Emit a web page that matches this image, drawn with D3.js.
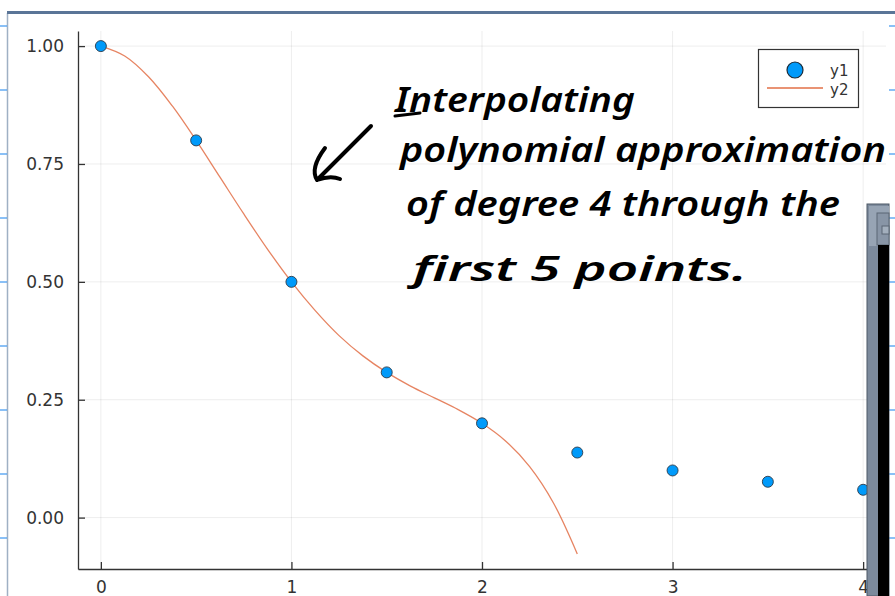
<!DOCTYPE html>
<html>
<head>
<meta charset="utf-8">
<script src="https://cdn.jsdelivr.net/npm/d3@7"></script>
<style>
  body { margin: 0; background: #fff; }
  text { font-family: "DejaVu Sans", sans-serif; }
</style>
</head>
<body>
<div id="chart"></div>
<script>
// sample points y1
var pointX = [0, 0.5, 1, 1.5, 2, 2.5, 3, 3.5, 4];
var pointY = [1.0, 0.8, 0.5, 0.308, 0.2, 0.138, 0.1, 0.076, 0.059];

// curve y2
var curveX = [0, 0.125, 0.25, 0.375, 0.5, 0.625, 0.75, 0.875, 1, 1.125, 1.25, 1.375, 1.5,
              1.625, 1.75, 1.875, 2, 2.125, 2.25, 2.375, 2.5];
var curveY = [1.0, 0.979, 0.935, 0.873, 0.8, 0.722, 0.644, 0.569, 0.5, 0.439, 0.386, 0.343, 0.308,
              0.279, 0.254, 0.229, 0.2, 0.162, 0.108, 0.031, -0.077];

var xTicks = [0, 1, 2, 3, 4];
var yTicks = [0, 0.25, 0.5, 0.75, 1.0];
var seriesNames = ["y1", "y2"];
var noteLines = ["Interpolating", "polynomial approximation", "of degree 4 through the", "first  5 points."];

var width = 895, height = 596,
    margin = {top: 31, right: 9, bottom: 27, left: 78};

var svg = d3.select("#chart").append("svg")
    .attr("width", width)
    .attr("height", height);

var x = d3.scaleLinear().domain([-0.12, 4.12]).range([margin.left, width - margin.right]),
    y = d3.scaleLinear().domain([-0.109, 1.032]).range([height - margin.bottom, margin.top]);

// page frame behind the plot
svg.append("line").attr("x1", 7.5).attr("x2", 7.5).attr("y1", 13).attr("y2", height)
    .attr("stroke", "#9fb0c4").attr("stroke-width", 1.5);
svg.append("line").attr("x1", 7).attr("x2", width).attr("y1", 12.5).attr("y2", 12.5)
    .attr("stroke", "#5a7597").attr("stroke-width", 3);
var rulerY = d3.range(26, height, 64);
svg.selectAll(".rl").data(rulerY).enter().append("line")
    .attr("x1", 0).attr("x2", 7).attr("y1", d => d).attr("y2", d => d)
    .attr("stroke", "#3c96f0").attr("stroke-width", 1.2);
svg.selectAll(".rr").data(rulerY).enter().append("line")
    .attr("x1", 889).attr("x2", width).attr("y1", d => d).attr("y2", d => d)
    .attr("stroke", "#3c96f0").attr("stroke-width", 1.2);

// grid
var grid = svg.append("g").attr("stroke", "#000").attr("stroke-opacity", 0.07).attr("stroke-width", 1);
grid.selectAll(".gx").data(xTicks).enter().append("line")
    .attr("x1", d => x(d)).attr("x2", d => x(d))
    .attr("y1", margin.top).attr("y2", height - margin.bottom);
grid.selectAll(".gy").data(yTicks).enter().append("line")
    .attr("x1", margin.left).attr("x2", width - margin.right)
    .attr("y1", d => y(d)).attr("y2", d => y(d));

// axes, ticks point inward
var xAxis = svg.append("g")
    .attr("transform", "translate(0," + (height - margin.bottom) + ")")
    .call(d3.axisBottom(x).tickValues(xTicks).tickSizeInner(-7).tickSizeOuter(0).tickPadding(12).tickFormat(d3.format("d")));
var yAxis = svg.append("g")
    .attr("transform", "translate(" + margin.left + ",0)")
    .call(d3.axisLeft(y).tickValues(yTicks).tickSizeInner(-7).tickSizeOuter(0).tickPadding(14).tickFormat(d3.format(".2f")));
[xAxis, yAxis].forEach(function (a) {
    a.select(".domain").attr("stroke", "#333").attr("stroke-width", 1.3);
    a.selectAll(".tick line").attr("stroke", "#333").attr("stroke-width", 1.3);
    a.selectAll(".tick text").attr("fill", "#333").style("font-size", "17px")
        .style("font-family", "DejaVu Sans, sans-serif");
});

// plot content
var plot = svg.append("g");
var curve = curveX.map((d, i) => [d, curveY[i]]);
plot.append("path")
    .datum(curve)
    .attr("fill", "none")
    .attr("stroke", "#e26f46")
    .attr("stroke-opacity", 0.85)
    .attr("stroke-width", 1.3)
    .attr("d", d3.line().curve(d3.curveCatmullRom).x(d => x(d[0])).y(d => y(d[1])));

plot.selectAll("circle").data(pointX).enter().append("circle")
    .attr("cx", d => x(d))
    .attr("cy", (d, i) => y(pointY[i]))
    .attr("r", 5.5)
    .attr("fill", "#009afa")
    .attr("stroke", "#2b3a48")
    .attr("stroke-width", 0.9);

// legend
var legend = svg.append("g");
legend.append("rect").attr("x", 758.5).attr("y", 49.5).attr("width", 100).attr("height", 58)
    .attr("fill", "#fff").attr("stroke", "#333").attr("stroke-width", 1.2);
legend.append("circle").attr("cx", 795).attr("cy", 70).attr("r", 8)
    .attr("fill", "#009afa").attr("stroke", "#1c2a36").attr("stroke-width", 1.2);
legend.append("line").attr("x1", 767).attr("x2", 823).attr("y1", 88).attr("y2", 88)
    .attr("stroke", "#e26f46").attr("stroke-width", 1.3);
legend.selectAll("text").data(seriesNames).enter().append("text")
    .attr("x", 830).attr("y", (d, i) => 76 + i * 19)
    .attr("fill", "#333").style("font-size", "15px")
    .text(d => d);

// handwritten note
var noteX = [395, 400, 406, 413],
    noteBase = [112, 162, 216, 281],
    noteW = [240, 486, 434, 334];
svg.selectAll(".note").data(noteLines).enter().append("text")
    .attr("x", (d, i) => noteX[i])
    .attr("y", (d, i) => noteBase[i])
    .attr("textLength", (d, i) => noteW[i])
    .attr("lengthAdjust", "spacingAndGlyphs")
    .style("font-family", "Noto Sans, sans-serif")
    .style("font-style", "italic")
    .style("font-weight", "600")
    .style("font-size", "34px")
    .attr("fill", "#000")
    .text(d => d);
svg.append("line").attr("x1", 395).attr("x2", 420).attr("y1", 116).attr("y2", 113)
    .attr("stroke", "#000").attr("stroke-width", 3).attr("stroke-linecap", "round");

// arrow
svg.append("path")
    .attr("d", "M371,126 L317,180 M325,148 C316,160 312,172 317,180 C325,177 333,176 340,179")
    .attr("fill", "none").attr("stroke", "#000").attr("stroke-width", 4)
    .attr("stroke-linecap", "round").attr("stroke-linejoin", "round");

// window overlapping on the right
var win = svg.append("g");
win.append("rect").attr("x", 867).attr("y", 204).attr("width", 22).attr("height", height - 204)
    .attr("fill", "#7c8a9c").attr("stroke", "#4d5866").attr("stroke-width", 1);
win.append("rect").attr("x", 869).attr("y", 206).attr("width", 20).attr("height", 40)
    .attr("fill", "#97a4b4");
win.append("rect").attr("x", 877).attr("y", 213).attr("width", 12).attr("height", 32)
    .attr("fill", "#8895a6").attr("stroke", "#5b6674");
win.append("rect").attr("x", 882).attr("y", 226).attr("width", 7).attr("height", 8)
    .attr("fill", "#a3afbd").attr("stroke", "#5b6674");
win.append("rect").attr("x", 878).attr("y", 245).attr("width", 11).attr("height", height - 245)
    .attr("fill", "#000");
</script>
</body>
</html>
